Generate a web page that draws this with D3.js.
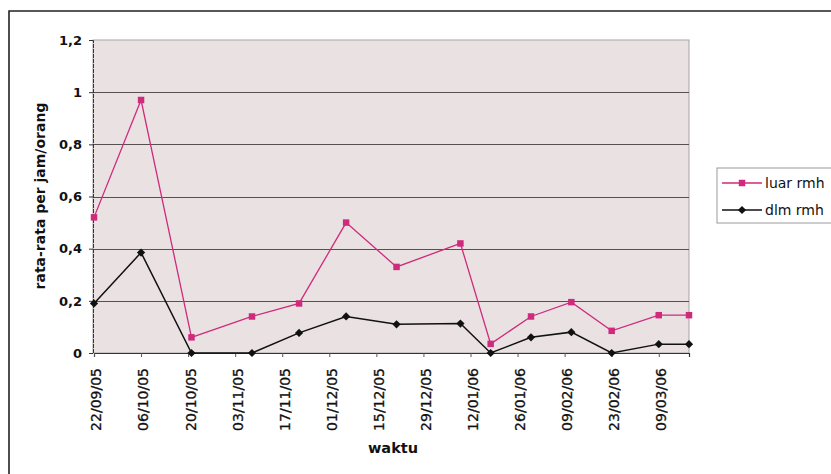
<!DOCTYPE html>
<html>
<head>
<meta charset="utf-8">
<script src="https://cdn.jsdelivr.net/npm/d3@7"></script>
<style>
  html, body { margin: 0; padding: 0; background: #fff; }
  svg { display: block; }
  text { font-family: "DejaVu Sans", sans-serif; fill: #111; }
</style>
</head>
<body>
<svg id="chart" width="831" height="474"></svg>
<script>
// Observation dates (dd/mm/yy)
const dates = ["22/09/05", "06/10/05", "21/10/05", "08/11/05", "22/11/05", "06/12/05", "21/12/05",
               "09/01/06", "18/01/06", "30/01/06", "11/02/06", "23/02/06", "09/03/06", "18/03/06"];
// Average per hour per person, outside the house
const luarRmh = [0.52, 0.97, 0.06, 0.14, 0.19, 0.50, 0.33, 0.42, 0.035, 0.14, 0.195, 0.085, 0.145, 0.145];
// Average per hour per person, inside the house
const dlmRmh = [0.19, 0.385, 0, 0, 0.077, 0.14, 0.11, 0.113, 0, 0.06, 0.08, 0, 0.034, 0.034];
// Date-axis tick labels (every 14 days)
const xTickLabels = ["22/09/05", "06/10/05", "20/10/05", "03/11/05", "17/11/05", "01/12/05", "15/12/05",
                     "29/12/05", "12/01/06", "26/01/06", "09/02/06", "23/02/06", "09/03/06"];
const yTicks = [0, 0.2, 0.4, 0.6, 0.8, 1, 1.2];
const seriesNames = ["luar rmh", "dlm rmh"];

const parse = d3.timeParse("%d/%m/%y");
const svg = d3.select("#chart");

const plot = { left: 93, right: 689, top: 40, bottom: 353 };

const x = d3.scaleTime()
  .domain([parse(dates[0]), parse(dates[dates.length - 1])])
  .range([plot.left + 1, plot.right]);
const y = d3.scaleLinear().domain([0, 1.2]).range([plot.bottom, plot.top]);

// outer frame (top and left edges)
svg.append("path")
  .attr("d", `M9,474 L9,11 L831,11`)
  .attr("fill", "none").attr("stroke", "#222").attr("stroke-width", 1.6);

// plot area
svg.append("rect")
  .attr("x", plot.left).attr("y", plot.top)
  .attr("width", plot.right - plot.left).attr("height", plot.bottom - plot.top)
  .attr("fill", "#eae2e2").attr("stroke", "#a9a3a3").attr("stroke-width", 1);

// horizontal gridlines
svg.append("g").selectAll("line")
  .data(yTicks.filter(d => d > 0 && d < 1.2))
  .join("line")
  .attr("x1", plot.left).attr("x2", plot.right)
  .attr("y1", d => Math.round(y(d)) + 0.5).attr("y2", d => Math.round(y(d)) + 0.5)
  .attr("stroke", "#55514c").attr("stroke-width", 1.1);

// y axis
const yAxis = d3.axisLeft(y).tickValues(yTicks).tickSize(4)
  .tickFormat(d => d3.format("~g")(d).replace(".", ","));
const yg = svg.append("g").attr("transform", `translate(${plot.left},0)`).call(yAxis);
yg.select(".domain").attr("stroke", "#333").attr("stroke-dasharray", "4,1");
yg.selectAll(".tick line").attr("stroke", "#333");
yg.selectAll(".tick text")
  .attr("x", -11)
  .style("font-family", "'DejaVu Sans', sans-serif")
  .style("font-weight", "bold").style("font-size", "13px").attr("fill", "#111");

// x axis
const xAxis = d3.axisBottom(x)
  .tickValues(xTickLabels.map(parse))
  .tickSize(4)
  .tickFormat(d3.timeFormat("%d/%m/%y"));
const xg = svg.append("g").attr("transform", `translate(0,${plot.bottom})`).call(xAxis);
xg.select(".domain").attr("stroke", "#333").attr("stroke-width", 1.2);
xg.selectAll(".tick line").attr("stroke", "#555");
xg.selectAll(".tick text")
  .attr("transform", "rotate(-90)")
  .attr("text-anchor", "end")
  .attr("x", -15).attr("y", 2).attr("dy", "0.35em")
  .style("font-family", "'DejaVu Sans', sans-serif")
  .style("font-size", "14px").attr("fill", "#111")
  .attr("stroke", "#111").attr("stroke-width", 0.3);

// axis titles
svg.append("text")
  .attr("transform", "translate(45,196) rotate(-90)")
  .attr("text-anchor", "middle")
  .style("font-weight", "bold").style("font-size", "14px")
  .text("rata-rata per jam/orang");
svg.append("text")
  .attr("x", 393).attr("y", 453)
  .attr("text-anchor", "middle")
  .style("font-weight", "bold").style("font-size", "14.5px")
  .text("waktu");

// series
const pink = "#cf2a7c";
const rows = dates.map((d, i) => ({ date: parse(d), luar: luarRmh[i], dlm: dlmRmh[i] }));

const lineLuar = d3.line().x(d => x(d.date)).y(d => y(d.luar));
const lineDlm = d3.line().x(d => x(d.date)).y(d => y(d.dlm));

svg.append("path").datum(rows).attr("d", lineLuar)
  .attr("fill", "none").attr("stroke", pink).attr("stroke-width", 1.3);
svg.append("path").datum(rows).attr("d", lineDlm)
  .attr("fill", "none").attr("stroke", "#111").attr("stroke-width", 1.5);

// square marker; the diamond is the same square turned 45 degrees
const squareSym = d3.symbol().type(d3.symbolSquare).size(42);
const diamondSym = d3.symbol().type(d3.symbolSquare).size(34);

svg.append("g").selectAll("path").data(rows).join("path")
  .attr("transform", d => `translate(${x(d.date)},${y(d.luar)})`)
  .attr("d", squareSym).attr("fill", pink);
svg.append("g").selectAll("path").data(rows).join("path")
  .attr("transform", d => `translate(${x(d.date)},${y(d.dlm)}) rotate(45)`)
  .attr("d", diamondSym).attr("fill", "#111");

// legend
const lg = svg.append("g");
lg.append("rect")
  .attr("x", 717).attr("y", 168).attr("width", 130).attr("height", 55)
  .attr("fill", "#fff").attr("stroke", "#9a9a9a").attr("stroke-width", 1);
const legendItems = [
  { name: seriesNames[0], color: pink, sym: squareSym, rot: 0, w: 1.3 },
  { name: seriesNames[1], color: "#111", sym: diamondSym, rot: 45, w: 1.5 }
];
const li = lg.selectAll("g").data(legendItems).join("g")
  .attr("transform", (d, i) => `translate(0,${183 + i * 27})`);
li.append("line").attr("x1", 722).attr("x2", 762).attr("y1", 0).attr("y2", 0)
  .attr("stroke", d => d.color).attr("stroke-width", d => d.w);
li.append("path").attr("transform", d => `translate(742,0) rotate(${d.rot})`)
  .attr("d", d => d.sym()).attr("fill", d => d.color);
li.append("text").attr("x", 765).attr("y", 0).attr("dy", "0.35em")
  .style("font-size", "14px").text(d => d.name);
</script>
</body>
</html>
